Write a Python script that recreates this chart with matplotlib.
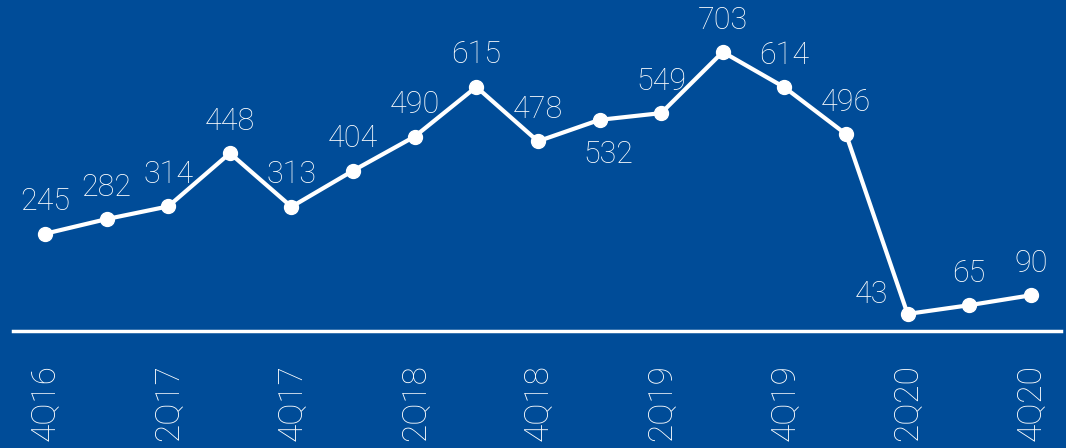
import matplotlib.pyplot as plt

quarters = ["4Q16", "1Q17", "2Q17", "3Q17", "4Q17", "1Q18", "2Q18", "3Q18", "4Q18",
            "1Q19", "2Q19", "3Q19", "4Q19", "1Q20", "2Q20", "3Q20", "4Q20"]
values = [245, 282, 314, 448, 313, 404, 490, 615, 478, 532, 549, 703, 614, 496, 43, 65, 90]
# where the value label goes relative to the point
label_pos = ["up"] * len(values)
label_pos[9] = "down"
label_pos[14] = "left"

bg = "#004C98"
fnt = dict(family="Roboto", weight="light", color="white")

fig = plt.figure(figsize=(10.66, 4.48), dpi=100, facecolor=bg)
ax = fig.add_axes([13 / 1066, 117 / 448, 1048 / 1066, 331 / 448], facecolor=bg)

x = list(range(len(values)))
ax.plot(x, values, color="white", lw=3, marker="o", ms=10, mec="white", mfc="white", clip_on=False)

for i, v in enumerate(values):
    if label_pos[i] == "up":
        off = (0, 23)
    elif label_pos[i] == "down":
        off = (6, -25)
    else:
        off = (-26, 14)
    ax.annotate(str(v), (i, v), xytext=off, textcoords="offset points", ha="center", va="center",
                fontsize=22, **fnt)

ax.set_xlim(-0.52, 16.49)
ax.set_ylim(0, 834)
for s in ["top", "right", "left"]:
    ax.spines[s].set_visible(False)
ax.spines["bottom"].set_color("white")
ax.spines["bottom"].set_linewidth(2.5)
ax.set_yticks([])
ax.set_xticks(x[::2])
ax.set_xticklabels(quarters[::2], rotation=90, fontsize=24, va="top", **fnt)
ax.tick_params(axis="x", length=0, pad=24)

fig.savefig("out.png", dpi=100, facecolor=bg)
